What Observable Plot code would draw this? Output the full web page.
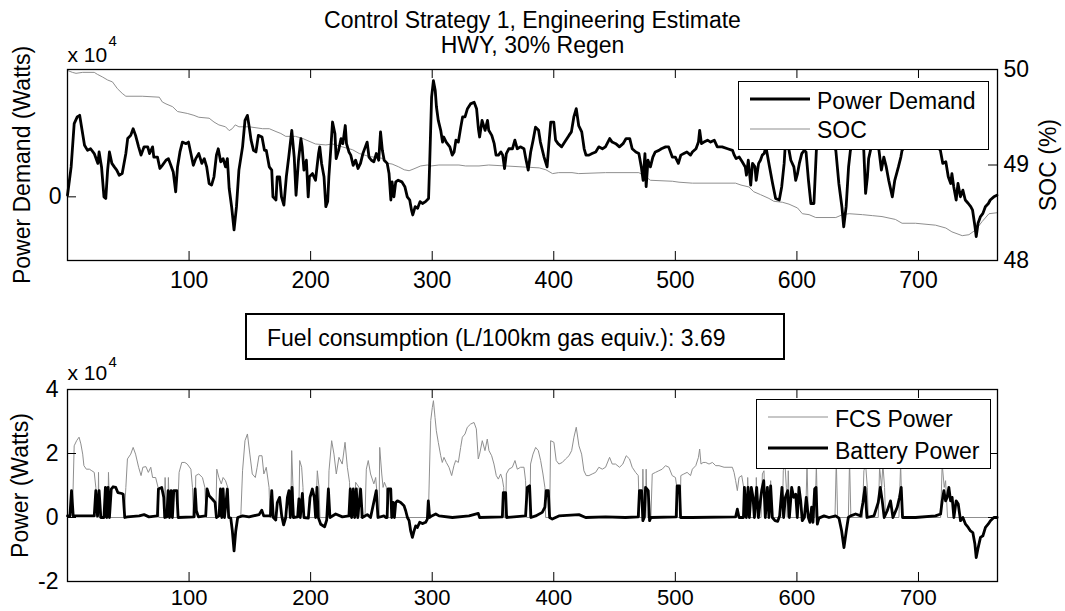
<!DOCTYPE html>
<html><head><meta charset="utf-8">
<script src="https://cdn.jsdelivr.net/npm/d3@7"></script>
<script src="https://cdn.jsdelivr.net/npm/@observablehq/plot@0.6"></script>
<style>
body{margin:0;background:#fff;font-family:"Liberation Sans",Arial,sans-serif;color:#000;}
#root{position:relative;width:1065px;height:611px;overflow:hidden;background:#fff;}
.box{position:absolute;background:#fff;border:1.5px solid #000;box-sizing:border-box;font-size:23px;line-height:23px;}
.box span{position:absolute;white-space:nowrap;}
.box svg{position:absolute;left:0;top:0;overflow:visible;}
</style></head><body><div id="root"></div>
<script>
// ---- data (power values in units of 10^4 W, time in s) ----
const titleLines = ["Control Strategy 1, Engineering Estimate", "HWY, 30% Regen"];
const fuelText = "Fuel consumption (L/100km gas equiv.): 3.69";
const xTicks = [100, 200, 300, 400, 500, 600, 700];
const topLeftTicks = [0];
const socTicks = [48, 49, 50];
const bottomTicks = [-2, 0, 2, 4];

const powerDemand = [[0,0.05],[3,0.94],[5.5,2.30],[8,2.51],[10,2.56],[12,2.09],[14,1.62],[16.5,1.46],[19,1.51],[22,1.36],[25,1.05],[26,1.41],[28,0.94],[30,0],[31.5,-0.05],[33,0.84],[34.5,1.41],[36.5,1.05],[38.5,0.94],[40.5,0.84],[42.5,0.68],[45,0.73],[48,1.36],[49.5,1.83],[52,1.93],[54,2.14],[56,1.93],[58.5,1.57],[60.5,1.31],[63,1.57],[66,1.57],[67.5,1.36],[70,1.57],[71,1.25],[74,1.25],[76,0.89],[78,0.99],[81,1.15],[83,1.20],[85,0.99],[87,0.78],[89,0.16],[90.5,0.94],[92.5,1.41],[94.5,1.72],[97.5,1.67],[99.5,1.72],[101.5,1.36],[103.5,0.99],[105.5,1.20],[108,1.36],[110.5,1.05],[112.5,1.20],[114.5,0.94],[116.5,0.42],[118.5,0.37],[120.5,0.63],[122.5,1.31],[124,1.51],[126,1.10],[128,1.20],[130,0.94],[131.5,1.20],[133,0.26],[135,-0.31],[137,-1.04],[139,-0.31],[141,0.84],[144,1.57],[146,2.40],[148,2.56],[149.5,2.19],[151,1.78],[153,1.46],[155,1.41],[157,1.93],[160,1.88],[162,1.46],[163.5,1.46],[166,0.94],[168,0.84],[169,0],[171.5,-0.10],[172.5,0.63],[174.5,0.63],[176,0],[178,-0.26],[180,0.63],[182,1.25],[184.5,2.09],[186.5,1.25],[188,0.05],[190,1.15],[192,1.83],[193,1.57],[194.5,0.84],[196.5,1.15],[198,0],[199,0.63],[201.5,0.73],[204,0.52],[206.5,1.36],[207.5,1.57],[209,1.05],[211,0.63],[212.5,-0.31],[214,-0.15],[215,0.63],[216.5,1.46],[218,2.35],[220,1.98],[221,1.20],[223,1.46],[225,1.83],[226.5,1.67],[228.5,2.24],[229.5,1.67],[231.5,1.41],[233,1.31],[235,0.99],[237,1.15],[239,0.89],[241,1.05],[243,1.36],[245,1.57],[246.5,1.72],[248,1.25],[250,1.15],[252,1.10],[254,1.36],[256,1.15],[257.5,2.04],[259,1.46],[260.5,1.15],[263,1.05],[264.5,0.73],[266,-0.10],[267,0.47],[268.5,0],[270,0.47],[272,0.52],[275,0.47],[277.5,0.32],[279.5,0],[281.5,-0.10],[283,-0.42],[284,-0.57],[286,-0.31],[288,-0.36],[290,-0.15],[292,-0.21],[294.5,-0.15],[297,-0.05],[298,1.15],[299.5,3.13],[301,3.65],[302.5,3.34],[303.5,2.82],[305,2.40],[307,2.09],[308.5,1.72],[309.5,1.88],[311.5,1.72],[314.5,1.57],[316.5,1.31],[318,1.41],[319.5,1.78],[321.5,1.72],[323.5,2.19],[325,2.51],[327,2.51],[329,2.77],[331.5,2.92],[334.5,2.97],[336.5,2.77],[338,2.14],[339,1.88],[341,2.40],[343.5,2.09],[345.5,2.40],[346.5,2.09],[349,1.93],[351,1.67],[352.5,1.31],[354.5,1.31],[356.5,1.41],[358,1.31],[359.5,0.89],[361,1.36],[363,1.51],[366,1.51],[368,1.78],[370,1.51],[372.5,1.57],[375.5,1.51],[377,1.20],[379,0.84],[381,1.41],[383,1.78],[385,2.19],[387.5,2.09],[389,1.72],[392,1.25],[394.5,0.94],[396,1.67],[397.5,2.35],[400,2.35],[401.5,1.78],[403.5,1.67],[406.5,1.57],[409,1.72],[412.5,1.93],[414.5,2.04],[416.5,2.51],[418.5,2.77],[420.5,2.24],[423,2.04],[425,1.51],[426.5,1.31],[429,1.31],[431.5,1.36],[434.5,1.41],[437,1.57],[440,1.51],[442.5,1.57],[446,1.83],[448,1.72],[451,1.67],[454,1.57],[457,1.67],[459.5,1.83],[462.5,1.83],[464.5,1.51],[467.5,1.41],[470,1.36],[472,0.94],[473.5,0.52],[475,1.36],[476,0.32],[477.5,1.15],[479.5,0.94],[481.5,1.25],[483.5,1.41],[486.5,1.46],[488.5,1.51],[492,1.57],[494.5,1.57],[497.5,1.25],[500,1.25],[502.5,1.05],[504.5,1.31],[507,1.36],[509.5,1.41],[512.5,1.31],[514,1.41],[517,1.51],[519,1.72],[520,2.09],[521.5,1.67],[523.5,1.72],[526.5,1.78],[529,1.72],[532,1.78],[534.5,1.57],[538.5,1.57],[543,1.51],[547,1.46],[548.5,1.31],[550,1.20],[552.5,1.25],[555,1.10],[557.5,0.94],[558.5,0.68],[560,1.15],[562,0.37],[563.5,1.05],[565.5,0.94],[566.5,0.52],[568.5,1.05],[570,1.15],[571.5,1.31],[573,1.36],[574.5,1.57],[575.5,1.36],[577.5,0.94],[580,0.42],[582.5,-0.05],[585.5,-0.10],[587.5,0.32],[589.5,1.05],[590.5,1.67],[593,1.57],[595,1.15],[597.5,0.94],[599,0.52],[600.5,0.73],[602,1.05],[604,1.36],[606,1.46],[607.5,1.41],[609.5,0.52],[611.5,-0.21],[614,-0.21],[616,1.46],[621,2.05],[626,1.90],[632,1.46],[634.5,0.42],[637,-0.31],[638.5,-0.94],[640.5,-0.31],[642.5,0.94],[644,1.46],[650,2.00],[655,1.46],[656.5,0.11],[658,0.63],[659,1.20],[660.5,1.46],[664,1.90],[667.5,1.46],[669.5,0.84],[671.5,1.25],[673.5,0.94],[675.5,0.52],[678.5,0],[680.5,0.52],[683.5,0.94],[685.5,1.25],[686.5,1.46],[697.5,2.00],[708.5,1.90],[718,1.46],[720,1.05],[722.5,1.10],[724.5,0.63],[726.5,0.42],[727.5,0.73],[729,0.32],[731,-0.10],[732.5,0.42],[734.5,0],[736.5,0.21],[738.5,-0.10],[741,-0.21],[743,-0.31],[744.5,-0.42],[746.5,-0.94],[747.5,-1.25],[749,-0.83],[751,-0.62],[753,-0.52],[755,-0.31],[757.5,-0.21],[759,-0.10],[762,0],[764.5,0.05]];

const soc = [[0,49.99],[4,49.97],[7,49.96],[12.5,49.97],[22,49.97],[24.5,49.95],[29,49.92],[33,49.89],[37,49.87],[41,49.80],[45,49.75],[48,49.72],[61.5,49.72],[75.5,49.71],[78,49.66],[81,49.64],[86.5,49.61],[90.5,49.56],[98.5,49.54],[104,49.52],[108,49.50],[116.5,49.49],[120.5,49.45],[124.5,49.42],[130,49.40],[133,49.36],[135.5,49.38],[138,49.42],[141,49.40],[149.5,49.40],[160.5,49.38],[166,49.38],[171.5,49.35],[175.5,49.33],[179.5,49.30],[187.5,49.30],[193,49.28],[204,49.22],[212.5,49.21],[218,49.22],[226,49.19],[234.5,49.16],[240,49.12],[248,49.09],[259,49.07],[262,49.02],[267,49.01],[272.5,48.98],[277,48.95],[281,48.94],[285,48.96],[290.5,48.99],[296,49.00],[299,48.99],[305.5,49.00],[322,49.00],[327.5,48.99],[338.5,48.99],[346.5,49.00],[360.5,48.99],[374,48.98],[388,48.97],[393.5,48.95],[399,48.91],[404,48.92],[415,48.92],[420.5,48.91],[442.5,48.92],[470,48.92],[475.5,48.88],[479.5,48.84],[497.5,48.83],[503,48.82],[514,48.81],[549.5,48.81],[554,48.79],[560.5,48.77],[564.5,48.72],[570,48.69],[577,48.65],[581,48.62],[588,48.61],[593.5,48.59],[600.5,48.55],[604.5,48.49],[610,48.48],[615.5,48.45],[632,48.45],[637.5,48.48],[643,48.49],[654,48.48],[662,48.47],[670,48.46],[681,48.43],[686.5,48.39],[697.5,48.39],[714,48.37],[722.5,48.34],[727.5,48.30],[736,48.26],[741.5,48.27],[747,48.32],[752.5,48.41],[758,48.49],[764.5,48.50]];

const fcsPower = [[0,0],[4,0],[5.5,2.24],[7.5,2.40],[9.5,2.51],[11,2.30],[12.5,1.98],[13.5,1.62],[15.5,1.51],[18,1.51],[20,1.46],[22,1.41],[23.3,0.94],[23.8,0],[25.2,0],[25.5,1.41],[26,0],[33.2,0],[33.7,1.41],[34.8,0],[46.6,0],[48,0.94],[49.3,1.83],[52,1.98],[54,2.19],[56,1.98],[58.5,1.57],[60.5,1.31],[62,1.57],[64.5,1.59],[66.5,1.41],[68.5,1.57],[70,1.25],[72.5,1.25],[74.5,0.94],[75.1,0],[79.5,0],[80.3,1.25],[81.4,0],[82.5,0],[83,1.25],[83.9,0],[90.4,0],[91.8,1.41],[94,1.72],[96.5,1.72],[98.5,1.67],[101.5,1.51],[102.8,0.94],[103.6,0],[105,0],[105.5,1.31],[108,1.36],[111,1.25],[113,0.94],[114,0],[122,0],[122.8,1.51],[124.5,1.25],[126.5,1.05],[128,1.25],[130,1.15],[131.8,0.94],[132.4,0],[142.5,0],[144,1.46],[146,2.40],[148,2.61],[150,1.98],[152,1.36],[154.5,1.25],[156,1.57],[157.5,1.93],[160,1.93],[161.5,1.36],[163.5,1.57],[165.8,0.94],[166.6,0],[183.6,0],[184.4,2.09],[185.5,0.94],[186.3,0],[190.2,0],[191,1.78],[192.6,1.57],[193.7,0.94],[194.5,0],[204.1,0],[205.5,1.46],[206.9,0.94],[207.7,0],[214.3,0],[215.1,1.46],[217.3,2.40],[219.2,1.98],[221.1,1.36],[223.3,1.88],[226,1.67],[228.3,2.35],[230.2,1.57],[232,1.10],[232.6,0],[236.5,0],[237,1.10],[239.8,0.94],[240.6,0],[244.7,0],[245.8,1.51],[247.4,1.78],[249.3,1.36],[252,1.05],[253.5,1.25],[254.4,0.84],[254.9,0],[256.3,0],[256.8,2.19],[258.5,1.36],[259.6,0.94],[260.7,1.10],[262.3,0.94],[263.4,0],[296.8,0],[298.8,3.03],[300.1,3.44],[301,3.65],[302.3,3.13],[303.4,2.71],[305,2.35],[307,1.93],[308.3,1.72],[309.7,1.88],[311.6,1.72],[313.8,1.57],[316,1.31],[317.9,1.62],[319.3,1.78],[321.5,1.72],[323.4,2.19],[324.8,2.51],[327,2.61],[328.9,2.82],[331.6,2.92],[334.4,2.97],[336.3,2.77],[337.9,1.83],[339,1.98],[341.2,2.40],[343.4,2.09],[345.3,2.45],[346.7,2.09],[348.9,1.93],[350.8,1.67],[352.7,1.31],[354.4,1.20],[356.3,1.36],[357.7,1.20],[358.8,0.94],[359.3,0],[360.4,0],[361,1.36],[363.1,1.51],[365.9,1.57],[368.1,1.78],[370,1.51],[372.7,1.57],[375.5,1.57],[376.8,1.15],[377.7,0],[380.4,0],[380.9,1.67],[382.9,1.98],[385.1,2.19],[387.3,2.09],[389.2,1.78],[391.1,1.36],[392.7,0.94],[393.3,0],[396.6,0],[397.4,2.40],[400.1,2.35],[402,1.78],[404.2,1.67],[407,1.72],[409.7,1.83],[412.5,1.93],[414.7,2.09],[416.6,2.51],[418.5,2.82],[420.7,2.24],[422.9,1.98],[424.8,1.46],[426.7,1.31],[428.9,1.31],[431.6,1.36],[434.4,1.41],[437.1,1.57],[439.9,1.51],[442.6,1.57],[445.9,1.88],[448.1,1.67],[450.8,1.67],[454.1,1.57],[456.8,1.67],[459.6,1.93],[462.3,1.83],[464.5,1.57],[467.3,1.41],[469.5,1.31],[470.5,0],[472.7,0],[473.3,1.51],[474.1,0],[475.5,0],[476,1.51],[476.9,0],[479.9,0],[481,1.36],[483.7,1.41],[486.4,1.46],[489.2,1.51],[491.9,1.62],[494.7,1.57],[497.4,1.31],[500.1,1.25],[501.2,0.94],[501.8,0],[504,0],[504.5,1.31],[507,1.36],[509.7,1.41],[512.5,1.31],[514,1.51],[516.8,1.62],[519,1.88],[520,2.14],[521.1,1.67],[522.8,1.72],[525,1.72],[527.7,1.67],[530.5,1.72],[533.2,1.62],[535.9,1.62],[540.1,1.57],[546.9,1.57],[548.3,1.41],[549.6,1.15],[551,0.84],[552.4,1.25],[554.6,1.31],[556.2,0.94],[556.8,0],[559,0],[559.5,1.25],[560.6,0],[566.1,0],[566.6,1.25],[567.7,0],[570.5,0],[571.6,1.36],[572.9,1.46],[574.3,0],[577,0],[578.4,1.15],[579.8,0],[588,0],[588.8,1.46],[590.2,1.67],[591.3,0.94],[592.1,0],[592.9,1.46],[594,0],[607.2,0],[608.3,1.67],[609.4,0],[614.9,0],[616,1.67],[617,0],[631.3,0],[632.4,1.78],[633.5,0],[642.3,0],[643.3,1.78],[644.4,0],[653.8,0],[655.1,1.46],[656.5,1.67],[657.9,0.94],[658.7,0],[666.9,0],[668,1.57],[669.7,0.94],[670.7,1.67],[672.1,0.94],[672.9,0],[683.9,0],[685.3,1.67],[686.6,0],[718.2,0],[719.5,1.67],[721.2,0.94],[722.3,1.15],[723.9,0],[765,0]];

const batteryPower = [[0,0.05],[2,0.05],[3.3,0.84],[4.7,0.05],[22,0.05],[23.3,0.84],[24.7,0.05],[26,0.84],[27.4,0],[30,0],[31.2,0.94],[32.3,0],[33.4,0.94],[34.5,0],[36,0.89],[37.5,0.96],[39.7,0.94],[41.4,0.78],[44.7,0.75],[45.8,0.73],[47.1,0],[49.3,0.02],[59,0.05],[63,0.09],[67,0.02],[74,0.05],[74.8,0.89],[77.5,0.94],[79.2,0.63],[80,0],[81.7,0.02],[82.8,0.84],[83.9,0],[85.2,0.84],[86.3,0],[87.4,0.84],[89.9,0.84],[91,0],[104,0.02],[105,0.89],[106,0.21],[107.7,0.02],[113.7,0.05],[114.8,0.89],[116.5,0.68],[119.2,0.57],[121.4,0.47],[122.5,0],[124.7,0.05],[125.8,0.89],[126.9,0],[128,0.89],[129.1,0],[131.5,0.89],[132.6,0],[134.3,-0.02],[135.6,-0.42],[137,-1.04],[138.4,-0.42],[140,0],[144,0.05],[149.3,0.02],[157.6,0.09],[159.8,0.23],[161.4,0.05],[166.9,0.05],[168,0.84],[169.3,0],[171.3,-0.08],[172.6,0.47],[174.5,0.63],[176.2,0.05],[177.8,-0.23],[179.5,0],[180.9,0.63],[182.2,0.84],[183.3,0],[184.7,0.94],[185.8,0],[189.3,0.02],[190.4,0.58],[191.5,0],[193.2,0.75],[194.5,0],[198.1,-0.02],[199.5,0.63],[201.4,0.89],[203,0.63],[204.1,0],[205.2,0.94],[206.3,0],[208.3,-0.21],[211.5,-0.29],[213.2,-0.08],[214.6,0.89],[215.9,0],[220.6,0.11],[226.1,0.02],[231.5,0.05],[232.6,0.89],[233.7,0],[235.1,0.89],[236.2,0],[237.6,0.89],[238.7,0],[241.1,0.89],[242.5,0],[246.6,0.09],[249.3,0],[254,0.84],[255.4,0],[260.4,0.05],[261.8,0],[262.9,0],[263.7,0.89],[265.9,0.89],[266.7,0],[267.8,0.47],[268.9,0],[270,0.47],[271.4,0.52],[274.1,0.47],[276.8,0.37],[278.2,0.21],[279.6,0],[281,-0.10],[282.3,-0.42],[283.7,-0.62],[285.1,-0.42],[286.4,-0.26],[287.8,-0.31],[289.7,-0.15],[291.9,-0.19],[294.6,-0.15],[296,-0.05],[296.8,0.52],[297.9,0],[299.6,0.05],[302.9,0.11],[305.6,0.05],[316.6,0],[330.3,0.05],[337.9,0.13],[339,0],[357.7,0.02],[358.5,0.78],[360.4,0.78],[361.2,0],[376.8,0.05],[378.2,0.94],[380.1,0.99],[381.2,0],[385.1,0.05],[390.5,0.16],[392.7,0.32],[393.8,0.84],[395.5,0.84],[396.6,0],[398.8,-0.05],[404.2,0.05],[420.7,0.09],[426.2,0],[442.6,0.02],[459,0],[469.5,0.02],[470.5,0.84],[472.2,0.84],[473.3,-0.10],[474.4,0],[475.5,0.94],[477.7,0.84],[478.8,-0.10],[479.9,0],[500.7,0.02],[501.5,0.99],[503.4,0.99],[504.3,0],[513.8,0],[549.6,0.02],[551,0.26],[552.4,0],[556,0],[556.8,0.94],[558.4,0],[559.8,0.94],[560.9,0],[562.5,0.94],[563.9,0.63],[565,0],[566.9,0.94],[568.3,0],[571,0.84],[572.7,1.15],[574,0],[575.7,0.94],[577,0],[578.4,0.99],[579.8,0],[582,-0.10],[584.2,-0.12],[585.8,0.05],[587.7,0.94],[589.1,0],[590.5,0.63],[592.4,0.84],[593.8,0],[595.7,0.94],[597.3,0.63],[599,0.73],[600.3,0],[601.7,0.94],[603.1,0.52],[604.4,-0.10],[606.1,0],[607.7,0.63],[609.4,0],[610.7,-0.15],[612.1,0.32],[613.2,-0.15],[614.6,0.89],[615.7,0.94],[616.8,-0.21],[618.1,-0.02],[622.3,0.05],[626.4,0],[631.8,0.05],[634.6,-0.02],[636.8,-0.42],[638.7,-0.94],[640.6,-0.42],[642.3,0],[644.2,0.05],[648.3,0.11],[652.4,0.05],[654.3,0.47],[656,0.94],[657.6,0],[663.4,0.05],[666.9,0.47],[668.6,0.94],[670.2,0.52],[671.8,0],[674.3,0.21],[677,0.52],[679,0],[682.5,0.32],[684.4,0.63],[685.8,0.94],[686.9,0],[697.6,0],[714,0.05],[718.2,0.11],[719.5,0.52],[720.9,0.84],[722.3,0.52],[723.6,0.63],[725,0.94],[726.4,0.52],[727.7,0.63],[729.1,0],[731,0.52],[732.7,0.42],[734.6,-0.10],[736.5,0],[738.7,-0.21],[740.9,-0.31],[742.8,-0.42],[744.7,-0.47],[746.4,-0.83],[747.5,-1.25],[749.1,-0.94],[751,-0.62],[753,-0.57],[755.1,-0.31],[757.3,-0.21],[759.2,-0.10],[762,0],[764.7,0]];

// ---- layout ----
const W = 1065, mL = 67, mR = 68;
const frameW = W - mL - mR;
const xDomain = [0, 765];
const yDomain = [-2, 4];
const grey = "#8f8f8f";
const font = "Liberation Sans, Arial, Helvetica, sans-serif";
const socToY = s => yDomain[0] + (s - socTicks[0]) / (socTicks[2] - socTicks[0]) * (yDomain[1] - yDomain[0]);
const root = document.getElementById("root");
const plain = d => String(d);

function ticksMarks(frameH, leftTicks, rightTicks) {
  const L = 9;
  return [
    Plot.tickX(xTicks, {x: d => d, insetBottom: frameH - L, stroke: "#000"}),
    Plot.tickX(xTicks, {x: d => d, insetTop: frameH - L, stroke: "#000"}),
    Plot.tickY(leftTicks, {y: d => d, insetRight: frameW - L, stroke: "#000"}),
    Plot.tickY(rightTicks, {y: d => d, insetLeft: frameW - L, stroke: "#000"})
  ];
}
function label(txt, opts) {
  return Plot.text([txt], {text: d => d, textAnchor: "middle", lineAnchor: "middle", fontSize: 23, ...opts});
}

// top panel
const topH = 300, topMT = 69, topMB = 40;
const topFrameH = topH - topMT - topMB;
const topPlot = Plot.plot({
  width: W, height: topH, marginLeft: mL, marginRight: mR, marginTop: topMT, marginBottom: topMB,
  style: {fontFamily: font, fontSize: "23px", color: "#000", background: "transparent", overflow: "visible"},
  x: {domain: xDomain},
  y: {domain: yDomain},
  marks: [
    Plot.line(soc, {x: d => d[0], y: d => socToY(d[1]), stroke: grey, strokeWidth: 1}),
    Plot.line(powerDemand, {x: d => d[0], y: d => d[1], stroke: "#000", strokeWidth: 2.8, strokeLinejoin: "round"}),
    Plot.frame({stroke: "#000", strokeWidth: 1.3}),
    ...ticksMarks(topFrameH, topLeftTicks, socTicks.map(socToY)),
    Plot.axisX(xTicks, {anchor: "bottom", tickSize: 0, tickPadding: 11, label: null, tickFormat: plain}),
    Plot.axisY(topLeftTicks, {anchor: "left", tickSize: 0, tickPadding: 6, label: null, tickFormat: plain}),
    Plot.axisY(socTicks.map(socToY), {anchor: "right", tickSize: 0, tickPadding: 6, label: null,
      tickFormat: (d, i) => String(socTicks[i])}),
    label("Power Demand (Watts)", {frameAnchor: "left", rotate: -90, dx: -45}),
    label("SOC (%)", {frameAnchor: "right", rotate: -90, dx: 51}),
    label("x 10", {frameAnchor: "top-left", textAnchor: "start", dy: -14, fontSize: 21}),
    label("4", {frameAnchor: "top-left", textAnchor: "start", dx: 41, dy: -28, fontSize: 15}),
    label(titleLines[0], {frameAnchor: "top", dy: -49}),
    label(titleLines[1], {frameAnchor: "top", dy: -24})
  ]
});
topPlot.style.position = "absolute"; topPlot.style.left = "0px"; topPlot.style.top = "0px";
root.appendChild(topPlot);

// bottom panel
const botTop = 300, botH = 311, botMT = 89, botMB = 30;
const botFrameH = botH - botMT - botMB;
const botPlot = Plot.plot({
  width: W, height: botH, marginLeft: mL, marginRight: mR, marginTop: botMT, marginBottom: botMB,
  style: {fontFamily: font, fontSize: "23px", color: "#000", background: "transparent", overflow: "visible"},
  x: {domain: xDomain},
  y: {domain: yDomain},
  marks: [
    Plot.line(fcsPower, {x: d => d[0], y: d => d[1], stroke: grey, strokeWidth: 1}),
    Plot.line(batteryPower, {x: d => d[0], y: d => d[1], stroke: "#000", strokeWidth: 2.8, strokeLinejoin: "round"}),
    Plot.frame({stroke: "#000", strokeWidth: 1.3}),
    ...ticksMarks(botFrameH, bottomTicks, bottomTicks),
    Plot.axisX(xTicks, {anchor: "bottom", tickSize: 0, tickPadding: 8, label: null, tickFormat: plain, fontSize: 22}),
    Plot.axisY(bottomTicks, {anchor: "left", tickSize: 0, tickPadding: 9, label: null, tickFormat: plain}),
    label("Power (Watts)", {frameAnchor: "left", rotate: -90, dx: -47}),
    label("x 10", {frameAnchor: "top-left", textAnchor: "start", dy: -16, fontSize: 21}),
    label("4", {frameAnchor: "top-left", textAnchor: "start", dx: 41, dy: -27, fontSize: 15})
  ]
});
botPlot.style.position = "absolute"; botPlot.style.left = "0px"; botPlot.style.top = botTop + "px";
root.appendChild(botPlot);

// fuel consumption annotation box
const fuel = document.createElement("div");
fuel.className = "box";
Object.assign(fuel.style, {left: "245px", top: "313px", width: "540px", height: "47px", borderWidth: "2px"});
fuel.innerHTML = `<span style="left:20px;top:12px">${fuelText}</span>`;
root.appendChild(fuel);

// legends
function legend(left, top, w, h, items) {
  const d = document.createElement("div");
  d.className = "box";
  Object.assign(d.style, {left: left + "px", top: top + "px", width: w + "px", height: h + "px"});
  let svg = `<svg width="${w}" height="${h}">`;
  let html = "";
  items.forEach(it => {
    svg += `<line x1="11" x2="71" y1="${it.ly}" y2="${it.ly}" stroke="${it.color}" stroke-width="${it.sw}"/>`;
    html += `<span style="left:78px;top:${it.ty}px">${it.label}</span>`;
  });
  svg += `</svg>`;
  d.innerHTML = svg + html;
  root.appendChild(d);
}
legend(738, 81, 251, 69, [
  {label: "Power Demand", color: "#000", sw: 2.8, ly: 17, ty: 8},
  {label: "SOC", color: grey, sw: 1, ly: 47, ty: 37}
]);
legend(756, 399, 235, 70, [
  {label: "FCS Power", color: grey, sw: 1, ly: 17, ty: 8},
  {label: "Battery Power", color: "#000", sw: 2.8, ly: 48, ty: 40}
]);
</script></body></html>
